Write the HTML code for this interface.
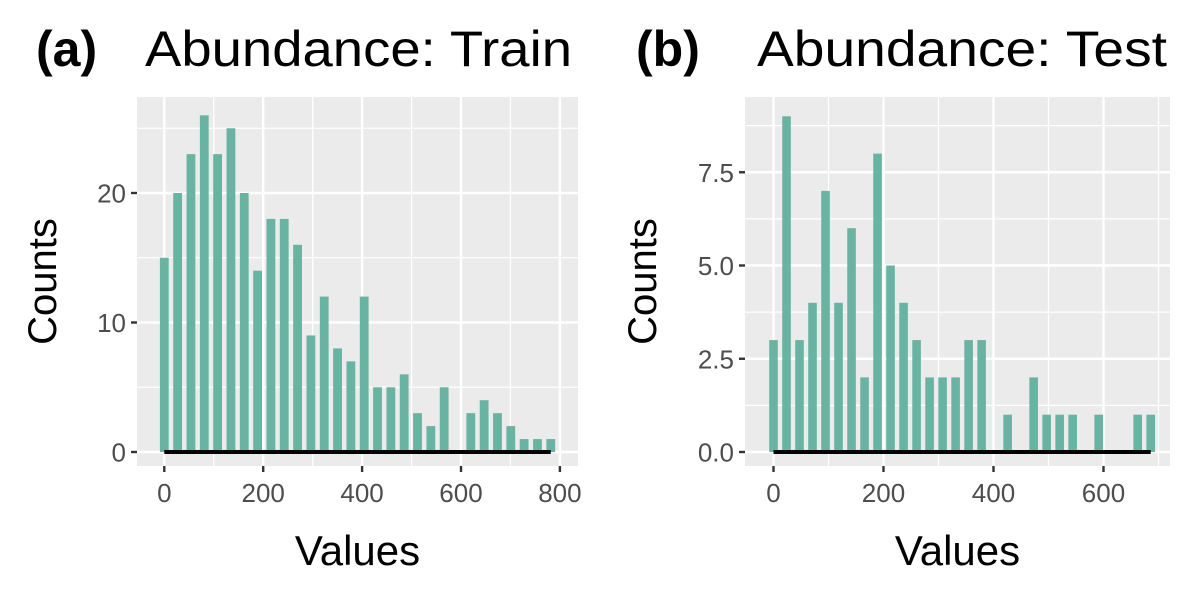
<!DOCTYPE html>
<html><head><meta charset="utf-8"><style>
body{margin:0;background:#fff;}
svg{display:block;font-family:"Liberation Sans",Arial,sans-serif;}
</style></head><body>
<svg id="chart" width="1200" height="600"></svg>
<script>
const trainCounts=[15,20,23,26,23,25,20,14,18,18,16,9,12,8,7,12,5,5,6,3,2,5,0,3,4,3,2,1,1,1];
const trainBinWidth=26.95;
const trainXTicks=[0,200,400,600,800];
const trainYTicks=[0,10,20];
const testCounts=[3,9,3,4,7,4,6,2,8,5,4,3,2,2,2,3,3,0,1,0,2,1,1,1,0,1,0,0,1,1];
const testBinWidth=23.65;
const testXTicks=[0,200,400,600];
const testYTicks=[0,2.5,5,7.5];
const testYLabels=["0.0","2.5","5.0","7.5"];

const NS="http://www.w3.org/2000/svg";
const svg=document.getElementById('chart');
function mk(tag,attrs,parent){const e=document.createElementNS(NS,tag);for(const k in attrs)e.setAttribute(k,attrs[k]);(parent||svg).appendChild(e);return e;}

function panel(o){
  const g=mk('g',{});
  
  
  const sx=v=>o.x0+(v-o.xmin)*o.kx;
  const sy=v=>o.y0-v*o.ky;
  const bg=mk('rect',{x:o.left,y:o.top,width:o.right-o.left,height:o.bottom-o.top,fill:'#ebebeb'},g);
  
  
  for(let i=0;i<o.xt.length;i++){
    const step=o.xt[1]-o.xt[0];
    for(const v of [o.xt[i]-step/2,o.xt[i]+step/2]){const X=sx(v);if(X>o.left&&X<o.right)mk('line',{x1:X,x2:X,y1:o.top,y2:o.bottom,stroke:'#fff','stroke-width':1.2},g);}
  }
  const ystep=o.yt[1]-o.yt[0];
  for(let v=ystep/2;sy(v)>o.top;v+=ystep){mk('line',{x1:o.left,x2:o.right,y1:sy(v),y2:sy(v),stroke:'#fff','stroke-width':1.2},g);}
  for(const v of o.xt){const X=sx(v);mk('line',{x1:X,x2:X,y1:o.top,y2:o.bottom,stroke:'#fff','stroke-width':2.4},g);
    mk('line',{x1:X,x2:X,y1:o.bottom,y2:o.bottom+6,stroke:'#333','stroke-width':2.4},g);
    const t=mk('text',{x:X,y:o.bottom+36,'text-anchor':'middle','font-size':26,fill:'#4d4d4d'},g);t.textContent=v;
    }
  o.yt.forEach((v,i)=>{const Y=sy(v);mk('line',{x1:o.left,x2:o.right,y1:Y,y2:Y,stroke:'#fff','stroke-width':2.4},g);
    mk('line',{x1:o.left-6,x2:o.left,y1:Y,y2:Y,stroke:'#333','stroke-width':2.4},g);
    const t=mk('text',{x:o.left-11,y:Y+9.5,'text-anchor':'end','font-size':26,fill:'#4d4d4d'},g);t.textContent=o.yl?o.yl[i]:v;
    });
  const bw=o.bin*o.kx*0.66;
  o.counts.forEach((c,i)=>{if(c<=0)return;const cx=sx(i*o.bin);
    const r=mk('rect',{x:cx-bw/2,y:sy(c),width:bw,height:sy(0)-sy(c),fill:'#69b3a2'},g);
    });
  const base=mk('line',{x1:sx(0),x2:sx((o.counts.length-1)*o.bin),y1:sy(0),y2:sy(0),stroke:'#000','stroke-width':4},g);
  
  const tg=mk('text',{x:o.tagx,y:66,'font-size':50,'font-weight':'bold',fill:'#000'},g);tg.textContent=o.tag;
  
  const tt=mk('text',{x:o.titlex,y:66,'font-size':50,fill:'#000',textLength:o.titlew,lengthAdjust:'spacingAndGlyphs'},g);tt.textContent=o.title;
  
  const xl=mk('text',{x:(o.left+o.right)/2,y:565,'text-anchor':'middle','font-size':42,fill:'#000'},g);xl.textContent='Values';
  
  const yl=mk('text',{x:0,y:0,'text-anchor':'middle','font-size':40,fill:'#000',transform:`translate(${o.ylx},${(o.top+o.bottom)/2}) rotate(-90)`},g);yl.textContent='Counts';
  
}
panel({name:'panel-train',counts:trainCounts,bin:trainBinWidth,xt:trainXTicks,yt:trainYTicks,
  left:137,right:578,top:97,bottom:466,x0:164.3,xmin:0,kx:0.4945,y0:452,ky:12.95,
  tag:'(a)',tagx:36,title:'Abundance: Train',titlex:145,titlew:427,ylx:56});
panel({name:'panel-test',counts:testCounts,bin:testBinWidth,xt:testXTicks,yt:testYTicks,yl:testYLabels,
  left:745,right:1170,top:97,bottom:466,x0:773.5,xmin:0,kx:0.55,y0:452,ky:37.3,
  tag:'(b)',tagx:636,title:'Abundance: Test',titlex:757,titlew:410,ylx:656});
</script>
</body></html>
